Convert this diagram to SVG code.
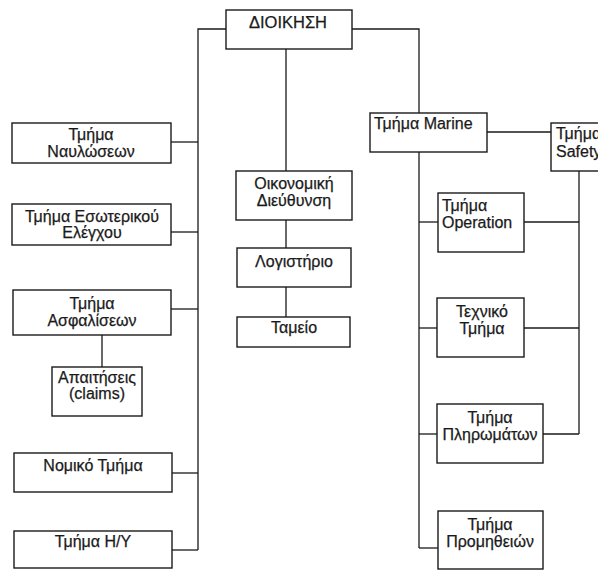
<svg xmlns="http://www.w3.org/2000/svg" width="598" height="570" viewBox="0 0 598 570">
<style>
rect.b{fill:#fff;stroke:#1a1a1a;stroke-width:1.4}
.c line,.c polyline{stroke:#1a1a1a;stroke-width:1.3;fill:none}
text{font-family:"Liberation Sans",Arial,sans-serif;font-size:16px;fill:#1a1a1a;stroke:#1a1a1a;stroke-width:0.25}
.m{text-anchor:middle}
</style>
<rect width="598" height="570" fill="#fff"/>
<g class="c" id="connectors">
<polyline points="226,29 198,29 198,550"/>
<line x1="171" y1="142" x2="198" y2="142"/>
<line x1="171" y1="232" x2="198" y2="232"/>
<line x1="171" y1="309" x2="198" y2="309"/>
<line x1="172" y1="473" x2="198" y2="473"/>
<line x1="172" y1="550" x2="198" y2="550"/>
<line x1="102" y1="335" x2="102" y2="367"/>
<line x1="286" y1="49" x2="286" y2="171"/>
<line x1="286" y1="220" x2="286" y2="248"/>
<line x1="286" y1="287" x2="286" y2="317"/>
<polyline points="352,29 419,29 419,113"/>
<line x1="419" y1="152" x2="419" y2="548"/>
<line x1="487" y1="132" x2="551" y2="132"/>
<line x1="579" y1="171" x2="579" y2="434"/>
<line x1="419" y1="222" x2="438" y2="222"/>
<line x1="524" y1="222" x2="579" y2="222"/>
<line x1="419" y1="328" x2="437" y2="328"/>
<line x1="524" y1="328" x2="579" y2="328"/>
<line x1="419" y1="434" x2="437" y2="434"/>
<line x1="543" y1="434" x2="579" y2="434"/>
<line x1="419" y1="548" x2="438" y2="548"/>
</g>
<g id="dioikisi"><rect class="b" x="226" y="10" width="126" height="39"/><text class="m" x="288" y="28" textLength="78" lengthAdjust="spacingAndGlyphs">ΔΙΟΙΚΗΣΗ</text></g>
<g id="nauloseon"><rect class="b" x="12" y="123" width="159" height="40"/><text class="m" x="91" y="140">Τμήμα</text><text class="m" x="91" y="157">Ναυλώσεων</text></g>
<g id="eleghou"><rect class="b" x="12" y="204" width="159" height="41"/><text class="m" x="92" y="222">Τμήμα Εσωτερικού</text><text class="m" x="92" y="238">Ελέγχου</text></g>
<g id="asfaliseon"><rect class="b" x="13" y="290" width="158" height="45"/><text class="m" x="92" y="309">Τμήμα</text><text class="m" x="92" y="326">Ασφαλίσεων</text></g>
<g id="claims"><rect class="b" x="52" y="367" width="90" height="49"/><text class="m" x="97" y="383">Απαιτήσεις</text><text class="m" x="97" y="399">(claims)</text></g>
<g id="nomiko"><rect class="b" x="14" y="453" width="158" height="39"/><text class="m" x="93" y="471">Νομικό Τμήμα</text></g>
<g id="hy"><rect class="b" x="14" y="531" width="158" height="37"/><text class="m" x="93" y="547">Τμήμα Η/Υ</text></g>
<g id="oikonomiki"><rect class="b" x="236" y="171" width="116" height="49"/><text class="m" x="294" y="189">Οικονομική</text><text class="m" x="294" y="206">Διεύθυνση</text></g>
<g id="logistirio"><rect class="b" x="237" y="248" width="114" height="39"/><text class="m" x="294" y="267">Λογιστήριο</text></g>
<g id="tameio"><rect class="b" x="237" y="317" width="113" height="30"/><text class="m" x="294" y="333">Ταμείο</text></g>
<g id="marine"><rect class="b" x="370" y="113" width="117" height="39"/><text x="374" y="129">Τμήμα Marine</text></g>
<g id="safety"><rect class="b" x="551" y="123" width="60" height="48"/><text x="556" y="139">Τμήμα</text><text x="556" y="157">Safety</text></g>
<g id="operation"><rect class="b" x="438" y="193" width="86" height="59"/><text x="442" y="211">Τμήμα</text><text x="442" y="228">Operation</text></g>
<g id="texniko"><rect class="b" x="437" y="298" width="87" height="59"/><text class="m" x="482" y="317">Τεχνικό</text><text class="m" x="482" y="334">Τμήμα</text></g>
<g id="pliromaton"><rect class="b" x="437" y="404" width="106" height="59"/><text class="m" x="490" y="423">Τμήμα</text><text class="m" x="490" y="440">Πληρωμάτων</text></g>
<g id="promitheion"><rect class="b" x="438" y="511" width="105" height="58"/><text class="m" x="490" y="530">Τμήμα</text><text class="m" x="490" y="547">Προμηθειών</text></g>
</svg>
